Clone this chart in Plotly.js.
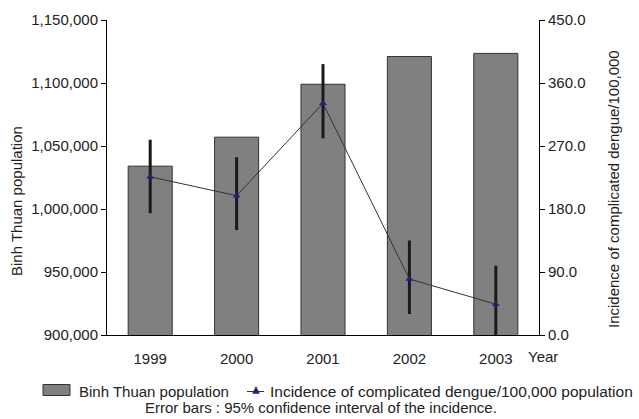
<!DOCTYPE html>
<html>
<head>
<meta charset="utf-8">
<script src="https://cdn.plot.ly/plotly-3.0.1.min.js"></script>
<style>html,body{margin:0;padding:0;background:#fff;}#chart{width:639px;height:419px;}</style>
</head>
<body>
<div id="chart"></div>
<script>
const years = ['1999', '2000', '2001', '2002', '2003'];
const population = [1034000, 1057000, 1099000, 1121000, 1123500];
const incidence = [226, 199, 331, 80, 44];
const ciUpper = [279, 254, 387, 135, 99];
const ciLower = [174, 150, 281, 30, -4];
const popTicks = [900000, 950000, 1000000, 1050000, 1100000, 1150000];
const incTicks = [0, 90, 180, 270, 360, 450];
const popName = 'Binh Thuan population';
const incName = 'Incidence of complicated dengue/100,000 population';
const incAxisTitle = 'Incidence of complicated dengue/100,000';

const errPlus = incidence.map((v, i) => ciUpper[i] - v);
const errMinus = incidence.map((v, i) => v - ciLower[i]);

const font = 'Liberation Sans, Arial, sans-serif';
const W = 639, H = 419, ML = 107, MR = 100, MT = 20, MB = 84;
const PW = W - ML - MR, PH = H - MT - MB;
// helpers converting pixel positions to paper coordinates (for legend/annotation layout)
const px = x => (x - ML) / PW;
const py = y => (H - MB - y) / PH;

const traces = [
  {
    type: 'bar', x: years, y: population, name: popName,
    marker: {color: '#808080', line: {color: '#333333', width: 1}},
    yaxis: 'y'
  },
  {
    type: 'scatter', mode: 'lines+markers', x: years, y: incidence,
    name: incName,
    line: {color: '#333333', width: 1},
    marker: {symbol: 'triangle-up', size: 7, color: '#22227a'},
    error_y: {type: 'data', symmetric: false, array: errPlus, arrayminus: errMinus,
              color: '#1a1a1a', thickness: 3, width: 0},
    yaxis: 'y2'
  }
];

const layout = {
  width: W, height: H,
  margin: {l: ML, r: MR, t: MT, b: MB},
  paper_bgcolor: '#fff', plot_bgcolor: '#fff',
  font: {family: font, color: '#222', size: 15},
  bargap: 0.49,
  showlegend: false,
  xaxis: {type: 'category', showline: true, linecolor: '#000', linewidth: 1,
          ticks: '', showgrid: false, tickfont: {size: 15}, ticklabelstandoff: 10},
  yaxis: {range: [900000, 1150000], tickvals: popTicks, tickformat: ',d',
          showline: true, linecolor: '#000', linewidth: 1, ticks: 'outside', ticklen: 5,
          tickcolor: '#000', showgrid: false, zeroline: false, tickfont: {size: 15}},
  yaxis2: {range: [0, 450], tickvals: incTicks, tickformat: '.1f', overlaying: 'y', side: 'right',
           showline: true, linecolor: '#000', linewidth: 1, ticks: 'outside', ticklen: 5,
           tickcolor: '#000', showgrid: false, zeroline: false, tickfont: {size: 15}},
  shapes: [
    {type: 'rect', xref: 'paper', yref: 'paper', x0: px(43), x1: px(70), y0: py(395.5), y1: py(384.5),
     fillcolor: '#808080', line: {color: '#333333', width: 1}},
    {type: 'line', xref: 'paper', yref: 'paper', x0: px(247), x1: px(264), y0: py(391.5), y1: py(391.5),
     line: {color: '#333333', width: 1}},
    {type: 'path', xref: 'paper', yref: 'paper',
     path: `M ${px(252.5)} ${py(393.5)} L ${px(259.5)} ${py(393.5)} L ${px(256)} ${py(386.5)} Z`,
     fillcolor: '#22227a', line: {color: '#22227a', width: 0.5}}
  ],
  annotations: [
    {text: popName, xref: 'paper', yref: 'paper', x: px(16), y: py(201), textangle: -90,
     xanchor: 'center', yanchor: 'middle', showarrow: false, font: {size: 15}},
    {text: incAxisTitle, xref: 'paper', yref: 'paper', x: px(613), y: py(189), textangle: -90,
     xanchor: 'center', yanchor: 'middle', showarrow: false, font: {size: 15}},
    {text: 'Year', xref: 'paper', yref: 'paper', x: px(526), y: py(356), xanchor: 'left', yanchor: 'middle',
     showarrow: false, font: {size: 15}},
    {text: popName, xref: 'paper', yref: 'paper', x: px(77), y: py(391), xanchor: 'left', yanchor: 'middle',
     showarrow: false, font: {size: 15}},
    {text: incName, xref: 'paper', yref: 'paper', x: px(268), y: py(391), xanchor: 'left', yanchor: 'middle',
     showarrow: false, font: {size: 15.5}},
    {text: 'Error bars : 95% confidence interval of the incidence.', xref: 'paper', yref: 'paper',
     x: px(321), y: py(407), xanchor: 'center', yanchor: 'middle', showarrow: false, font: {size: 15}}
  ]
};

Plotly.newPlot('chart', traces, layout, {displayModeBar: false, staticPlot: true});
</script>
</body>
</html>
